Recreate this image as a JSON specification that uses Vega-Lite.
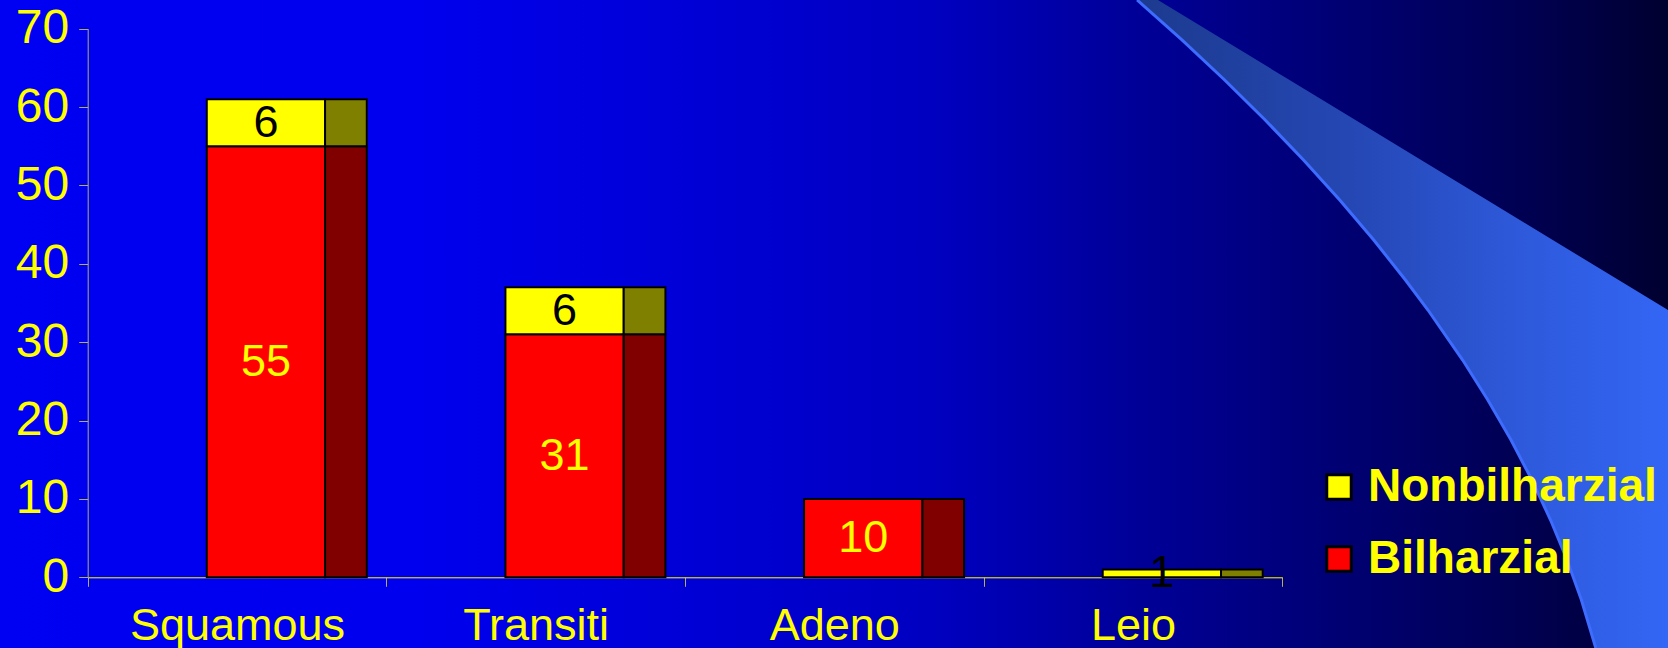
{
  "$schema": "https://vega.github.io/schema/vega-lite/v6.json",
  "width": 1668,
  "height": 648,
  "autosize": "none",
  "padding": 0,
  "background": "#000080",
  "config": {
    "font": "Liberation Sans",
    "view": {
      "stroke": null,
      "fill": {
        "gradient": "linear",
        "x1": 0, "y1": 0, "x2": 1, "y2": 0,
        "stops": [
          {"offset": 0, "color": "#0000F2"},
          {"offset": 0.25, "color": "#0000EE"},
          {"offset": 0.56, "color": "#0000C0"},
          {"offset": 0.68, "color": "#000098"},
          {"offset": 0.92, "color": "#000050"},
          {"offset": 1, "color": "#000030"}
        ]
      }
    },
    "legend": {
      "orient": "none",
      "legendX": 1316,
      "legendY": 464,
      "padding": 0,
      "symbolType": "square",
      "symbolSize": 600,
      "symbolStrokeColor": "black",
      "symbolStrokeWidth": 3,
      "symbolOpacity": 1,
      "labelFont": "Liberation Sans",
      "labelFontSize": 46,
      "labelFontWeight": "bold",
      "labelColor": "#FFFF00",
      "labelOffset": 6,
      "labelLimit": 400,
      "rowPadding": 26
    }
  },
  "datasets": {
    "cases": [
      {"type": "Squamous", "group": "Bilharzial", "count": 55},
      {"type": "Squamous", "group": "Nonbilharzial", "count": 6},
      {"type": "Transiti", "group": "Bilharzial", "count": 31},
      {"type": "Transiti", "group": "Nonbilharzial", "count": 6},
      {"type": "Adeno", "group": "Bilharzial", "count": 10},
      {"type": "Leio", "group": "Nonbilharzial", "count": 1}
    ],
    "swoosh": [
      {"sy": 0, "left": 68.17, "right": 69.42},
      {"sy": 6.17, "left": 70.86, "right": 73.37},
      {"sy": 12.35, "left": 73.42, "right": 77.31},
      {"sy": 18.52, "left": 75.85, "right": 81.26},
      {"sy": 24.69, "left": 78.15, "right": 85.2},
      {"sy": 30.86, "left": 80.32, "right": 89.15},
      {"sy": 37.04, "left": 82.36, "right": 93.09},
      {"sy": 43.21, "left": 84.26, "right": 97.04},
      {"sy": 47.84, "left": 85.61, "right": 100},
      {"sy": 55.56, "left": 87.69, "right": 100},
      {"sy": 61.73, "left": 89.2, "right": 100},
      {"sy": 67.9, "left": 90.59, "right": 100},
      {"sy": 74.07, "left": 91.84, "right": 100},
      {"sy": 80.25, "left": 92.96, "right": 100},
      {"sy": 86.42, "left": 93.95, "right": 100},
      {"sy": 92.59, "left": 94.81, "right": 100},
      {"sy": 100, "left": 95.67, "right": 100}
    ]
  },
  "layer": [
    {
      "data": {"name": "swoosh"},
      "encoding": {
        "y": {"field": "sy", "type": "quantitative", "axis": null,
              "scale": {"domain": [0, 100], "reverse": true, "nice": false, "zero": false}},
        "x": {"field": "left", "type": "quantitative", "axis": null,
              "scale": {"domain": [0, 100], "nice": false, "zero": false}}
      },
      "layer": [
        {
          "mark": {
            "type": "area",
            "orient": "horizontal",
            "fill": {
              "gradient": "linear",
              "x1": 0, "y1": 0, "x2": 1, "y2": 0,
              "stops": [
                {"offset": 0, "color": "#1C3A8E"},
                {"offset": 0.4, "color": "#2547B4"},
                {"offset": 0.7, "color": "#2D58D8"},
                {"offset": 1, "color": "#3366F5"}
              ]
            }
          },
          "encoding": {"x2": {"field": "right"}}
        },
        {
          "mark": {"type": "line", "color": "#3D6CFF", "strokeWidth": 3},
          "encoding": {"order": {"field": "sy", "type": "quantitative"}}
        }
      ]
    },
    {
      "data": {"name": "cases"},
      "encoding": {
        "x": {
          "field": "type",
          "type": "nominal",
          "sort": ["Squamous", "Transiti", "Adeno", "Leio"],
          "scale": {"range": [87.7, 1282.3], "paddingInner": 0, "paddingOuter": 0},
          "axis": {
            "title": null,
            "labelAngle": 0,
            "tickBand": "extent",
            "offset": -70.7,
            "domainColor": "#FFFF00",
            "tickColor": "#B0B060",
            "tickSize": 9,
            "labelColor": "#FFFF00",
            "labelFont": "Liberation Sans",
            "labelFontSize": 45,
            "labelLimit": 400,
            "labelPadding": 17
          }
        },
        "y": {
          "field": "count",
          "type": "quantitative",
          "stack": "zero",
          "scale": {"domain": [0, 70], "range": [577.3, 28.7], "nice": false},
          "axis": {
            "title": null,
            "values": [0, 10, 20, 30, 40, 50, 60, 70],
            "grid": false,
            "offset": -87.7,
            "domainColor": "#B0B060",
            "tickColor": "#B0B060",
            "tickSize": 9,
            "labelColor": "#FFFF00",
            "labelFont": "Liberation Sans",
            "labelFontSize": 48,
            "labelPadding": 10
          }
        },
        "order": {"field": "group", "sort": "ascending"},
        "detail": {"field": "group"}
      },
      "layer": [
        {
          "mark": {"type": "bar", "width": 118.3, "xOffset": 28.9, "stroke": "black", "strokeWidth": 2},
          "encoding": {
            "color": {
              "field": "group",
              "type": "nominal",
              "scale": {"domain": ["Nonbilharzial", "Bilharzial"], "range": ["#FFFF00", "#FF0000"]},
              "legend": {"title": null}
            }
          }
        },
        {
          "mark": {"type": "bar", "width": 41.7, "xOffset": 108.9, "stroke": "black", "strokeWidth": 2},
          "encoding": {
            "fill": {
              "condition": {"test": "datum.group === 'Bilharzial'", "value": "#800000"},
              "value": "#808000"
            }
          }
        },
        {
          "mark": {"type": "text", "xOffset": 28.9, "fontSize": 45, "font": "Liberation Sans", "align": "center", "baseline": "middle"},
          "encoding": {
            "y": {"field": "count", "type": "quantitative", "stack": "zero", "bandPosition": 0.5},
            "text": {"field": "count", "type": "quantitative"},
            "color": {
              "condition": {"test": "datum.group === 'Bilharzial'", "value": "#FFFF00"},
              "value": "#000000"
            }
          }
        }
      ]
    }
  ],
  "resolve": {"scale": {"x": "independent", "y": "independent"}}
}
